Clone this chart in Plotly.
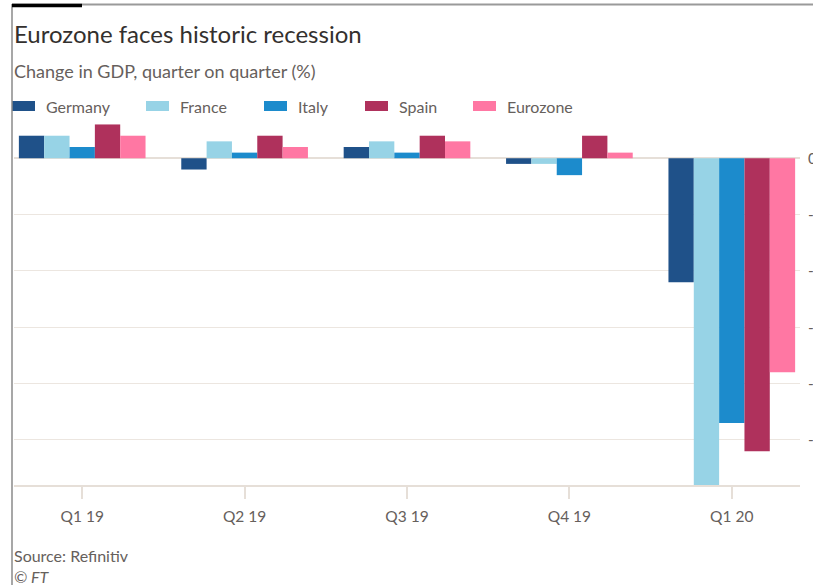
import plotly.graph_objects as go

quarters = ["Q1 19", "Q2 19", "Q3 19", "Q4 19", "Q1 20"]
germany = [0.4, -0.2, 0.2, -0.1, -2.2]
france = [0.4, 0.3, 0.3, -0.1, -5.8]
italy = [0.2, 0.1, 0.1, -0.3, -4.7]
spain = [0.6, 0.4, 0.4, 0.4, -5.2]
eurozone = [0.4, 0.2, 0.3, 0.1, -3.8]

series_names = ["Germany", "France", "Italy", "Spain", "Eurozone"]
series_values = [germany, france, italy, spain, eurozone]
colors = ["#1f5189", "#97d3e6", "#1c8bcc", "#af315c", "#ff77a3"]

y_ticks = [0, -1, -2, -3, -4, -5]
y_ticktext = ["0", "-1", "-2", "-3", "-4", "-5"]

W, H = 813, 585
ML, MR, MT, MB = 14, 13, 116, 100
PW = W - ML - MR
PH = H - MT - MB
FONT = "Lato, 'Open Sans', sans-serif"


def px(x):
    return (x - ML) / PW


def py(y):
    return (H - MB - y) / PH


fig = go.Figure()
for name, vals, col in zip(series_names, series_values, colors):
    fig.add_trace(go.Bar(x=quarters, y=vals, name=name, marker_color=col,
                         marker_line_width=0, showlegend=False))

shapes = []
annotations = []

# custom legend
legend_x = [12, 146, 264, 365, 473]
for name, col, lx in zip(series_names, colors, legend_x):
    shapes.append(dict(type="rect", xref="paper", yref="paper",
                       x0=px(lx), x1=px(lx + 23), y0=py(111), y1=py(101),
                       fillcolor=col, line_width=0))
    annotations.append(dict(text=name, xref="paper", yref="paper",
                            x=px(lx + 32), y=py(106), xanchor="left", yanchor="middle",
                            showarrow=False, font=dict(family=FONT, size=16, color="#66605c")))

# frame decorations
shapes.append(dict(type="line", xref="paper", yref="paper", x0=px(12), x1=px(813),
                   y0=py(4.5), y1=py(4.5), line=dict(color="#9a9a9a", width=2)))
shapes.append(dict(type="line", xref="paper", yref="paper", x0=px(12), x1=px(12),
                   y0=py(4), y1=py(585), line=dict(color="#8a8a8a", width=1.5)))
shapes.append(dict(type="line", xref="paper", yref="paper", x0=px(12), x1=px(82),
                   y0=py(5.5), y1=py(5.5), line=dict(color="#000000", width=3.5)))

annotations += [
    dict(text="Eurozone faces historic recession", xref="paper", yref="paper",
         x=px(12), y=py(33), xanchor="left", yanchor="middle", showarrow=False,
         font=dict(family=FONT, size=24, color="#33302e")),
    dict(text="Change in GDP, quarter on quarter (%)", xref="paper", yref="paper",
         x=px(12), y=py(71), xanchor="left", yanchor="middle", showarrow=False,
         font=dict(family=FONT, size=18, color="#66605c")),
    dict(text="Source: Refinitiv", xref="paper", yref="paper",
         x=px(12), y=py(555), xanchor="left", yanchor="middle", showarrow=False,
         font=dict(family=FONT, size=16, color="#66605c")),
    dict(text="<i>© FT</i>", xref="paper", yref="paper",
         x=px(12), y=py(576), xanchor="left", yanchor="middle", showarrow=False,
         font=dict(family=FONT, size=16, color="#66605c")),
]

fig.update_layout(
    width=W, height=H,
    margin=dict(l=ML, r=MR, t=MT, b=MB, pad=0, autoexpand=False),
    paper_bgcolor="white", plot_bgcolor="white",
    barmode="group", bargap=0.22, bargroupgap=0,
    shapes=shapes, annotations=annotations,
    showlegend=False,
    font=dict(family=FONT, color="#66605c"),
)
fig.update_xaxes(
    range=[-0.42, 4.42], showgrid=False, showline=True, linecolor="#e6dfd8", linewidth=2,
    ticks="outside", ticklen=12, tickcolor="#e6dfd8", tickwidth=1.5,
    tickfont=dict(family=FONT, size=15.5, color="#66605c"), ticklabelstandoff=4,
    automargin=False,
)
fig.update_yaxes(
    side="right", range=[-5.8, 0.75], tickvals=y_ticks, ticktext=y_ticktext,
    showgrid=True, gridcolor="#ece6e0", gridwidth=1,
    zeroline=True, zerolinecolor="#e6dfd8", zerolinewidth=2,
    showline=False, ticks="outside", ticklen=4, tickcolor="rgba(0,0,0,0)",
    tickfont=dict(family=FONT, size=15.5, color="#66605c"),
    automargin=False,
)

fig.write_html("out.html", config={"displayModeBar": False},
               post_script="document.body.style.margin='0';document.body.style.overflow='hidden';")
